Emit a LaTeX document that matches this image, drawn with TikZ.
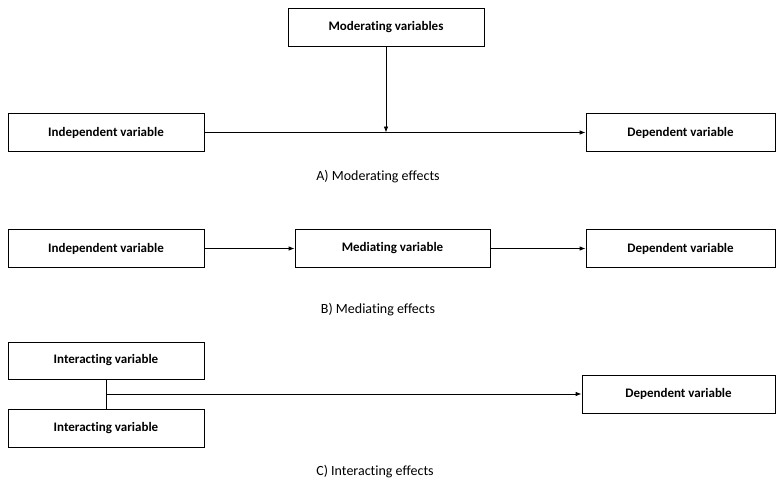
\documentclass[tikz,border=0pt]{standalone}
\usepackage{fontspec}
\setmainfont{Carlito}[Ligatures=NoCommon]
\usetikzlibrary{arrows.meta}
\begin{document}
\begin{tikzpicture}[x=1pt,y=-1pt,
  varbox/.style={draw, line width=0.8pt, rectangle, minimum height=38pt,
    inner sep=0pt, font=\bfseries\fontsize{13}{15}\selectfont},
  link/.style={line width=0.8pt, -{Latex[length=6pt,width=4.5pt]}},
  plain/.style={line width=0.8pt},
  caption/.style={font=\fontsize{14}{16}\selectfont}]
\useasboundingbox (0,0) rectangle (776,479);

% A) moderating effects
\node[varbox, minimum width=196pt] (mod) at (386,27.5) {Moderating variables};
\node[varbox, minimum width=196pt] (indA) at (106,132.5) {Independent variable};
\node[varbox, minimum width=189pt] (depA) at (680.5,132.5) {Dependent variable};
\coordinate (hitA) at (386,132.5);
\draw[link] (indA.east) -- (depA.west);
\draw[link] (mod.south) -- (hitA);
\node[caption] (capA) at (378,177) {A) Moderating effects};

% B) mediating effects
\node[varbox, minimum width=196pt] (indB) at (106,248.5) {Independent variable};
\node[varbox, minimum width=195pt] (medB) at (392.5,248.5) {Mediating variable};
\node[varbox, minimum width=189pt] (depB) at (680.5,248.5) {Dependent variable};
\draw[link] (indB.east) -- (medB.west);
\draw[link] (medB.east) -- (depB.west);
\node[caption] (capB) at (378,310) {B) Mediating effects};

% C) interacting effects
\node[varbox, minimum width=196pt, minimum height=37pt] (int1) at (106,360.5) {Interacting variable};
\node[varbox, minimum width=196pt] (int2) at (106,428) {Interacting variable};
\node[varbox, minimum width=193pt] (depC) at (678.5,394) {Dependent variable};
\coordinate (joinC) at (106,394);
\draw[plain] (int1.south) -- (int2.north);
\draw[link] (joinC) -- (depC.west);
\node[caption] (capC) at (375,472) {C) Interacting effects};
\end{tikzpicture}
\end{document}
